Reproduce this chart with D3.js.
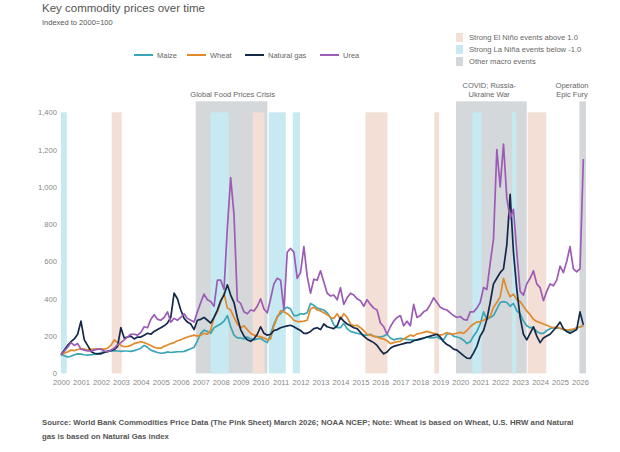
<!DOCTYPE html>
<html>
<head>
<meta charset="utf-8">
<script src="https://cdn.jsdelivr.net/npm/d3@7"></script>
<style>
  body { margin: 0; background: #fff; }
  svg { display: block; font-family: "Liberation Sans", Arial, sans-serif; }
</style>
</head>
<body>
<script>
// chart values (bimonthly: Jan, Mar, May, Jul, Sep, Nov)
var startYear = 2000;
var maize = [
  100, 95, 88, 92, 100, 105,
  103, 100, 98, 100, 102, 105,
  112, 115, 118, 120, 122, 120,
  118, 120, 120, 118, 122, 128,
  135, 150, 140, 125, 118, 112,
  108, 110, 115, 112, 114, 116,
  116, 118, 125, 132, 140, 175,
  215, 232, 225, 215, 245, 255,
  265, 280, 310, 250, 205, 190,
  190, 185, 195, 185, 180, 185,
  188, 175, 165, 210, 265, 305,
  320, 345, 355, 345, 310, 310,
  320, 318, 325, 375, 365, 350,
  345, 340, 325, 300, 260, 245,
  245, 268, 240, 225, 220, 215,
  210, 205, 205, 210, 198, 197,
  195, 200, 210, 190, 180, 185,
  188, 185, 182, 180, 178, 180,
  182, 188, 195, 190, 192, 195,
  185, 180, 210, 215, 200, 195,
  190, 178, 160, 170, 200, 225,
  265, 330, 290, 300, 310, 345,
  380, 385, 380, 360, 375, 335,
  320, 280, 255, 245, 245, 225,
  215, 215, 230, 240, 245, 242,
  242, 235, 225, 228, 235, 245,
  250, 255
];
var wheat = [
  100, 110, 115, 125, 122, 128,
  132, 130, 125, 130, 130, 132,
  132, 130, 135, 150, 180, 165,
  150, 143, 145, 150, 160, 165,
  170, 165, 158, 150, 140, 135,
  135, 145, 152, 160, 165, 175,
  180, 188, 195, 200, 205, 200,
  205, 215, 210, 233, 300, 330,
  380, 430, 350, 340, 300, 265,
  245, 255, 235, 215, 205, 200,
  197, 190, 180, 185, 255, 300,
  335, 330, 320, 305, 285, 278,
  278, 280, 285, 345, 355, 340,
  335, 325, 315, 300, 295, 320,
  290, 320, 300, 265, 255, 258,
  245, 230, 210, 205, 200, 195,
  188, 185, 175, 160, 165, 170,
  172, 185, 195, 205, 200, 212,
  215, 220, 225, 220, 215, 210,
  205, 210, 220, 210, 212, 215,
  220, 215, 230, 250, 265, 275,
  278, 285, 295, 305, 355, 380,
  410, 510, 450, 410, 425, 395,
  385, 360, 335, 315, 290, 278,
  272, 265, 258, 250, 245, 248,
  242, 235, 232, 235, 238, 242,
  250, 255
];
var naturalGas = [
  100, 125, 150, 170, 185, 210,
  280, 180, 150, 118, 108, 105,
  105, 112, 118, 122, 128, 145,
  245, 190, 195, 200, 185, 195,
  195, 205, 215, 210, 225, 235,
  245, 255, 270, 300, 430, 400,
  340, 295, 275, 265, 235, 285,
  290, 300, 285, 270, 300, 340,
  390, 420, 475, 420, 380, 300,
  235, 200, 180, 172, 185, 210,
  250, 215, 205, 210, 230, 235,
  245, 250, 255, 258, 250, 240,
  230, 215, 215, 225, 240, 245,
  235, 265, 250, 245, 240, 255,
  300, 280, 265, 255, 245, 240,
  220, 200, 185, 175, 165, 150,
  125, 105, 115, 135, 145, 150,
  155, 160, 165, 165, 175, 180,
  185, 190, 195, 200, 205, 210,
  195, 170, 155, 145, 130, 125,
  110, 95, 82, 80, 110, 145,
  200, 230, 290, 380, 480, 510,
  540, 560, 690, 960, 650, 450,
  300, 210, 180, 215, 250, 200,
  165, 190, 200, 210, 230, 250,
  275, 240, 225, 215, 225, 235,
  330, 260
];
var urea = [
  100, 120, 140, 165, 150, 160,
  130, 125, 120, 120, 125, 130,
  130, 120, 115, 125, 135, 155,
  165, 180, 195, 210, 210, 205,
  220, 250, 245, 290, 315, 290,
  285, 300, 330, 275, 295, 285,
  300, 320, 295, 285, 275, 330,
  380, 425, 395, 385, 360, 500,
  500, 450, 780, 1050, 850, 390,
  375, 330, 320, 340, 335, 360,
  400, 345, 325, 400, 480, 510,
  500, 340, 650, 670, 650, 510,
  540, 680, 520, 430, 505, 500,
  550, 490, 430, 415, 420, 395,
  460, 370, 405, 430, 420, 400,
  390, 360, 395, 370, 350, 340,
  270, 250, 210, 250, 280, 300,
  310, 255, 280, 255, 370, 300,
  310, 330, 340, 370, 405, 380,
  355, 345, 340, 325, 310, 300,
  305, 290, 285, 330, 330, 350,
  380, 460, 450, 590, 720, 1200,
  1000, 1230, 940, 830, 880, 650,
  440, 420, 480, 510, 550, 480,
  460, 390, 440, 480, 470, 500,
  575, 540, 600, 680, 560, 545,
  560, 1150
];

var seriesNames = ['Maize', 'Wheat', 'Natural gas', 'Urea'];
var seriesColors = ['#3aa6b5', '#e08a2c', '#14284a', '#9c5bb5'];
var seriesValues = [maize, wheat, naturalGas, urea];

var yTicks = [0, 200, 400, 600, 800, 1000, 1200, 1400];
var xTicks = d3.range(2000, 2027);

// shaded periods, [start, end] in decimal years
var elNino = [[2002.54, 2003.04], [2009.6, 2010.19], [2015.25, 2016.35], [2018.7, 2018.94], [2023.38, 2024.31]];
var laNina = [[2000.0, 2000.29], [2007.5, 2008.4], [2010.41, 2011.26], [2011.61, 2011.97], [2020.61, 2021.08], [2022.6, 2022.8]];
var macro = [[2006.75, 2010.34], [2019.79, 2023.33], [2025.97, 2026.3]];
var macroLabels = [
  { lines: ['Global Food Prices Crisis'], at: 2008.6 },
  { lines: ['COVID; Russia-', 'Ukraine War'], at: 2021.45 },
  { lines: ['Operation', 'Epic Fury'], at: 2025.6 }
];
var bandLegend = ['Strong El Niño events above 1.0', 'Strong La Niña events below -1.0', 'Other macro events'];

// layout
var width = 620, height = 452,
    colElNino = '#f3dfd6',
    colLaNina = '#c7e9f1',
    colMacro = '#d4d8db';

var svg = d3.select('body').append('svg')
    .attr('width', width)
    .attr('height', height);

var x = d3.scaleLinear().domain([2000, 2026.25]).range([61, 585]);
var y = d3.scaleLinear().domain([0, 1400]).range([373.4, 112.3]);

// title
svg.append('text')
    .attr('x', 42).attr('y', 12)
    .style('font-size', '11.5px').style('fill', '#555')
    .text('Key commodity prices over time');
svg.append('text')
    .attr('x', 42).attr('y', 25)
    .style('font-size', '7.5px').style('fill', '#555')
    .text('Indexed to 2000=100');

// bands
var gTop = y(1400) - 11;
svg.append('g').selectAll('rect').data(macro).join('rect')
    .attr('x', d => x(d[0])).attr('width', d => x(d[1]) - x(d[0]))
    .attr('y', gTop).attr('height', y(0) - gTop)
    .attr('fill', colMacro);
svg.append('g').selectAll('rect').data(elNino).join('rect')
    .attr('x', d => x(d[0])).attr('width', d => x(d[1]) - x(d[0]))
    .attr('y', y(1400)).attr('height', y(0) - y(1400))
    .attr('fill', colElNino);
svg.append('g').selectAll('rect').data(laNina).join('rect')
    .attr('x', d => x(d[0])).attr('width', d => x(d[1]) - x(d[0]))
    .attr('y', y(1400)).attr('height', y(0) - y(1400))
    .attr('fill', colLaNina);

// band labels
macroLabels.forEach(function (m) {
  var t = svg.append('text')
      .attr('text-anchor', 'middle')
      .style('font-size', '7.5px').style('fill', '#666');
  var n = m.lines.length;
  m.lines.forEach(function (l, i) {
    t.append('tspan')
        .attr('x', x(m.at))
        .attr('y', gTop - 4 - (n - 1 - i) * 9.5)
        .text(l);
  });
});

// axes
var yAxis = svg.append('g')
    .attr('transform', 'translate(57,0)')
    .call(d3.axisLeft(y).tickValues(yTicks).tickSize(0).tickPadding(0).tickFormat(d3.format(',')));
var xAxis = svg.append('g')
    .attr('transform', 'translate(0,' + (y(0) + 3) + ')')
    .call(d3.axisBottom(x).tickValues(xTicks).tickSize(0).tickPadding(3).tickFormat(d3.format('d')));
[yAxis, xAxis].forEach(function (a) {
  a.select('.domain').remove();
  a.selectAll('text').style('font-size', '7.6px').style('fill', '#888')
      .style('font-family', '"Liberation Sans", Arial, sans-serif');
});

// lines
var dates = maize.map((d, i) => startYear + i / 6);
var line = d3.line()
    .x((d, i) => x(dates[i]))
    .y(d => y(d));
svg.append('g').selectAll('path').data(seriesValues).join('path')
    .attr('d', line)
    .attr('fill', 'none')
    .attr('stroke', (d, i) => seriesColors[i])
    .attr('stroke-width', 1.7)
    .attr('stroke-linejoin', 'round');

// series legend
var legX = [134, 187, 245, 320];
var leg = svg.append('g').selectAll('g').data(seriesNames).join('g')
    .attr('transform', (d, i) => 'translate(' + legX[i] + ',55)');
leg.append('line')
    .attr('x1', 0).attr('x2', 19)
    .attr('stroke', (d, i) => seriesColors[i]).attr('stroke-width', 2);
leg.append('text')
    .attr('x', 23).attr('dy', '0.35em')
    .style('font-size', '7.5px').style('fill', '#666')
    .text(d => d);

// band legend
var bandCols = [colElNino, colLaNina, colMacro];
var bl = svg.append('g').selectAll('g').data(bandLegend).join('g')
    .attr('transform', (d, i) => 'translate(456,' + (37.5 + i * 12) + ')');
bl.append('rect')
    .attr('x', 0).attr('y', -4.5).attr('width', 7).attr('height', 9)
    .attr('fill', (d, i) => bandCols[i]);
bl.append('text')
    .attr('x', 13).attr('dy', '0.35em')
    .style('font-size', '7.6px').style('fill', '#666')
    .text(d => d);

// source note
svg.append('text')
    .attr('x', 42).attr('y', 425)
    .style('font-size', '7.8px').style('fill', '#555').style('font-weight', 'bold')
    .text('Source: World Bank Commodities Price Data (The Pink Sheet) March 2026; NOAA NCEP; Note: Wheat is based on Wheat, U.S. HRW and Natural');
svg.append('text')
    .attr('x', 42).attr('y', 439)
    .style('font-size', '7.8px').style('fill', '#555').style('font-weight', 'bold')
    .text('gas is based on Natural Gas index');
</script>
</body>
</html>
